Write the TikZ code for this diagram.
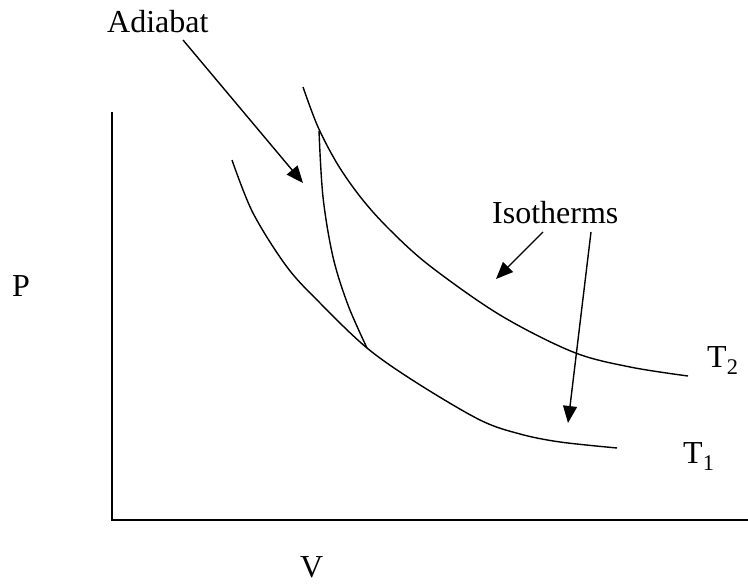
\documentclass[tikz,border=0pt]{standalone}
\usepackage{fontspec}
\setmainfont{Liberation Serif}
\usepackage{tikz}
\usetikzlibrary{arrows.meta}
\tikzset{every node/.append style={font=\fontsize{32}{38}\selectfont, inner sep=0pt, anchor=base west},
  curve/.style={line width=1.4pt},
  pointer/.style={line width=1.4pt, -{Triangle[length=17pt, width=14pt]}}}

\begin{document}
\begin{tikzpicture}[x=1pt, y=-1pt]
    \useasboundingbox (0,0) rectangle (748,585);
    \node (adiabat) at (107,33) {Adiabat};
    \node (isotherms) at (492,224) {Isotherms};
    \node (p) at (12,297) {P};
    \node (v) at (300,577) {V};
    \node (t2) at (707,368) {T\textsubscript{2}};
    \node (t1) at (683,464) {T\textsubscript{1}};
    \coordinate (origin) at (112,520);
    \coordinate (ytop) at (112,112);
    \coordinate (xend) at (748,520);
    \draw[curve] (ytop) -- (origin) -- (xend);
    \draw[curve] plot[smooth, tension=0.55] coordinates {(232,160) (253,213) (287,267) (320,303) (367,348) (417,383) (480,420) (520,434) (560,442) (617,448)};
    \draw[curve] plot[smooth, tension=0.55] coordinates {(303,87) (318,127) (338,165) (362,199) (390,230) (430,266) (500,315) (573,352) (630,367) (688,376)};
    \draw[curve] plot[smooth, tension=0.55] coordinates {(319,131) (323,197) (333,257) (348,305) (367,348)};
    \coordinate (a0) at (183,40);
    \coordinate (a1) at (303,183);
    \coordinate (i0) at (543,232);
    \coordinate (i1) at (496,279);
    \coordinate (j0) at (591,232);
    \coordinate (j1) at (568,423);
    \draw[pointer] (a0) -- (a1);
    \draw[pointer] (i0) -- (i1);
    \draw[pointer] (j0) -- (j1);
\end{tikzpicture}
\end{document}
